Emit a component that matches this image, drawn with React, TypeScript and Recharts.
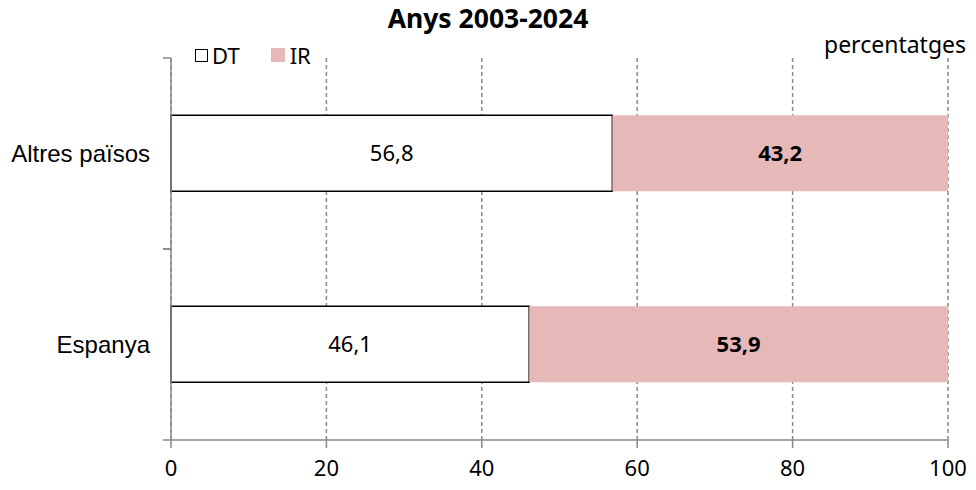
import React from 'react';
import { BarChart, Bar, XAxis, YAxis, CartesianGrid, Legend, LabelList } from 'recharts';

const categories = ['Altres països', 'Espanya'];
const dtValues = [56.8, 46.1];
const irValues = [43.2, 53.9];
const xTicks = [0, 20, 40, 60, 80, 100];

const data = categories.map((name, i) => ({ name, DT: dtValues[i], IR: irValues[i] }));

const W = 960;
const H = 474;
const TOP = 50;
const XAXIS_H = 42;
const YAXIS_W = 163;
const BAND = (H - TOP - XAXIS_H) / categories.length;
const AXIS_COLOR = '#898989';
const PINK = '#E6B8B7';
const SANS = '"Noto Sans", "Open Sans", sans-serif';

const fmt = (v: any) => Number(v).toFixed(1).replace('.', ',');

const CategoryTick = (props: any) => {
  const { y, payload } = props;
  return (
    <g>
      <line x1={YAXIS_W - 8} x2={YAXIS_W} y1={y - BAND / 2} y2={y - BAND / 2} stroke={AXIS_COLOR} strokeWidth={1.5} />
      <line x1={YAXIS_W - 8} x2={YAXIS_W} y1={y + BAND / 2} y2={y + BAND / 2} stroke={AXIS_COLOR} strokeWidth={1.5} />
      <text x={YAXIS_W - 21} y={y} dy="0.35em" textAnchor="end" fontFamily='"Liberation Sans", Arial, sans-serif' fontSize={24} fill="#000">
        {payload.value}
      </text>
    </g>
  );
};

// zero-height wrapper so the legend does not push the plot area down
const LegendContent = (props: any) => (
  <div style={{ height: 0, overflow: 'visible', position: 'relative' }}>
    <div style={{ position: 'absolute', top: 0, left: 0, display: 'flex', alignItems: 'center', whiteSpace: 'nowrap', fontFamily: SANS, fontSize: 22, color: '#000', lineHeight: '26px' }}>
      {(props.payload || []).map((entry: any, i: number) => (
        <React.Fragment key={entry.value}>
          <span
            style={
              entry.value === 'DT'
                ? { width: 11, height: 11, border: '1.5px solid #000', background: '#fff', display: 'inline-block', marginRight: 4 }
                : { width: 14, height: 14, background: PINK, display: 'inline-block', marginRight: 5 }
            }
          />
          <span style={{ marginRight: i === 0 ? 31 : 0 }}>{entry.value}</span>
        </React.Fragment>
      ))}
    </div>
  </div>
);

export default function App() {
  return (
    <div style={{ position: 'relative', width: W, height: H }}>
      <div style={{ position: 'absolute', left: 0, width: W, top: -2, textAlign: 'center', fontFamily: SANS, fontWeight: 'bold', fontSize: 26.5, color: '#000', lineHeight: '24px' }}>
        Anys 2003-2024
      </div>
      <div style={{ position: 'absolute', left: 816, top: 22, fontFamily: SANS, fontSize: 23, color: '#000', lineHeight: '28px', whiteSpace: 'nowrap' }}>
        percentatges
      </div>
      <BarChart
        width={W}
        height={H}
        layout="vertical"
        data={data}
        margin={{ top: TOP, right: 20, bottom: 0, left: 0 }}
        barCategoryGap="30%"
      >
        <CartesianGrid horizontal={false} stroke={AXIS_COLOR} strokeDasharray="4 3" strokeWidth={1.5} />
        <XAxis
          type="number"
          domain={[0, 100]}
          ticks={xTicks}
          height={XAXIS_H}
          stroke={AXIS_COLOR}
          strokeWidth={1.5}
          tickSize={8}
          tickMargin={12}
          tick={{ fill: '#000', fontSize: 22, fontFamily: SANS }}
          interval={0}
        />
        <YAxis
          type="category"
          dataKey="name"
          width={YAXIS_W}
          stroke={AXIS_COLOR}
          strokeWidth={1.5}
          tickLine={false}
          tick={<CategoryTick />}
        />
        <Legend
          verticalAlign="top"
          align="left"
          content={<LegendContent />}
          wrapperStyle={{ position: 'absolute', top: 34, left: 187, width: 200, height: 0 }}
        />
        <Bar dataKey="DT" stackId="a" fill="#fff" stroke="#000" strokeWidth={1.5} isAnimationActive={false}>
          <LabelList dataKey="DT" position="center" formatter={fmt} fill="#000" fontSize={22} fontFamily={SANS} />
        </Bar>
        <Bar dataKey="IR" stackId="a" fill={PINK} isAnimationActive={false}>
          <LabelList dataKey="IR" position="center" formatter={fmt} fill="#000" fontSize={22} fontWeight="bold" fontFamily={SANS} />
        </Bar>
      </BarChart>
    </div>
  );
}
